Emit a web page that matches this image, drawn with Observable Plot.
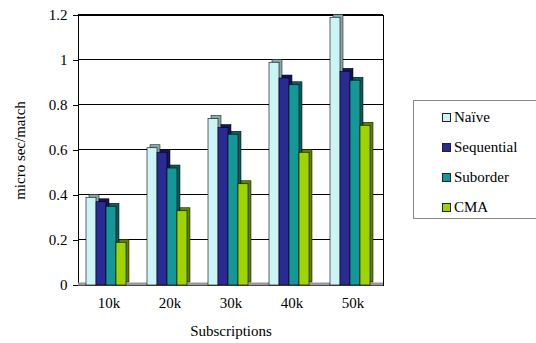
<!DOCTYPE html>
<html>
<head>
<meta charset="utf-8">
<script src="https://cdn.jsdelivr.net/npm/d3@7"></script>
<script src="https://cdn.jsdelivr.net/npm/@observablehq/plot@0.6"></script>
<style>
  body { margin: 0; background: #fff; }
  #wrap { position: relative; width: 536px; height: 343px; font-family: "Liberation Serif", "Times New Roman", Times, "DejaVu Serif", serif; }
  #wrap svg, #wrap svg text { font-family: "Liberation Serif", "Times New Roman", Times, "DejaVu Serif", serif !important; }
  #legend {
    position: absolute; left: 413px; top: 100px; width: 130px; height: 119px;
    border: 1px solid #888; box-sizing: border-box; padding: 1px 0 0 28px;
    font-size: 15px; color: #000; background: #fff;
  }
  .item { height: 30px; display: flex; align-items: center; }
  .sw { width: 7px; height: 7px; border: 1px solid #222; margin-right: 3px; }
</style>
</head>
<body>
<div id="wrap"></div>
<script>
// Matching cost per subscription count, four algorithms
const categories = ["10k", "20k", "30k", "40k", "50k"];
const series = ["Naïve", "Sequential", "Suborder", "CMA"];
const naive      = [0.39, 0.61, 0.74, 0.99, 1.19];
const sequential = [0.37, 0.59, 0.70, 0.92, 0.95];
const suborder   = [0.35, 0.52, 0.67, 0.89, 0.91];
const cma        = [0.19, 0.33, 0.45, 0.59, 0.71];
const yTicks = [0, 0.2, 0.4, 0.6, 0.8, 1, 1.2];

const colors = ["#ccf4f6", "#2a2a95", "#139797", "#9fd400"];
const sideColors = ["#8aa8aa", "#15155a", "#0b5b5b", "#5f7f00"];

const valuesBySeries = [naive, sequential, suborder, cma];
const data = [];
categories.forEach((c, ci) => {
  series.forEach((s, si) => data.push({cat: c, series: s, value: valuesBySeries[si][ci]}));
});

// depth faces drawn behind each bar, offset up and to the right
const depth = series.map((s, i) =>
  Plot.barY(data.filter(d => d.series === s), {
    fx: "cat", x: "series", y: "value",
    fill: sideColors[i], stroke: "#000", strokeWidth: 0.5,
    dx: 3, dy: -3
  })
);

const chart = Plot.plot({
  width: 536,
  height: 343,
  marginLeft: 76,
  marginRight: 151,
  marginTop: 15,
  marginBottom: 58,
  style: {fontSize: "15px", color: "#000", background: "#fff"},
  fx: {domain: categories, padding: 0, label: "Subscriptions", labelAnchor: "center", labelOffset: 50, tickSize: 0, tickPadding: 12},
  x: {domain: series, axis: null, paddingInner: 0, paddingOuter: 0.8, align: 0.4},
  y: {
    domain: [0, 1.2], ticks: yTicks, tickFormat: d => String(+d.toFixed(1)),
    label: "micro sec/match", labelAnchor: "center", labelArrow: "none", labelOffset: 64,
    tickSize: 5, tickPadding: 6, line: true
  },
  color: {domain: series, range: colors},
  marks: [
    Plot.gridY(yTicks, {stroke: "#000", strokeOpacity: 1, strokeWidth: 1, dy: -1}),
    Plot.frame({facet: "super", stroke: "#000"}),
    Plot.ruleY([0], {stroke: "#999", strokeWidth: 3, dy: -1.5}),
    ...depth,
    Plot.barY(data, {fx: "cat", x: "series", y: "value", fill: "series", stroke: "#000", strokeWidth: 0.6})
  ]
});

const wrap = document.getElementById("wrap");
wrap.appendChild(chart);

const legend = document.createElement("div");
legend.id = "legend";
series.forEach((s, i) => {
  const row = document.createElement("div");
  row.className = "item";
  const sw = document.createElement("span");
  sw.className = "sw";
  sw.style.background = colors[i];
  row.appendChild(sw);
  row.appendChild(document.createTextNode(s));
  legend.appendChild(row);
});
wrap.appendChild(legend);
</script>
</body>
</html>
